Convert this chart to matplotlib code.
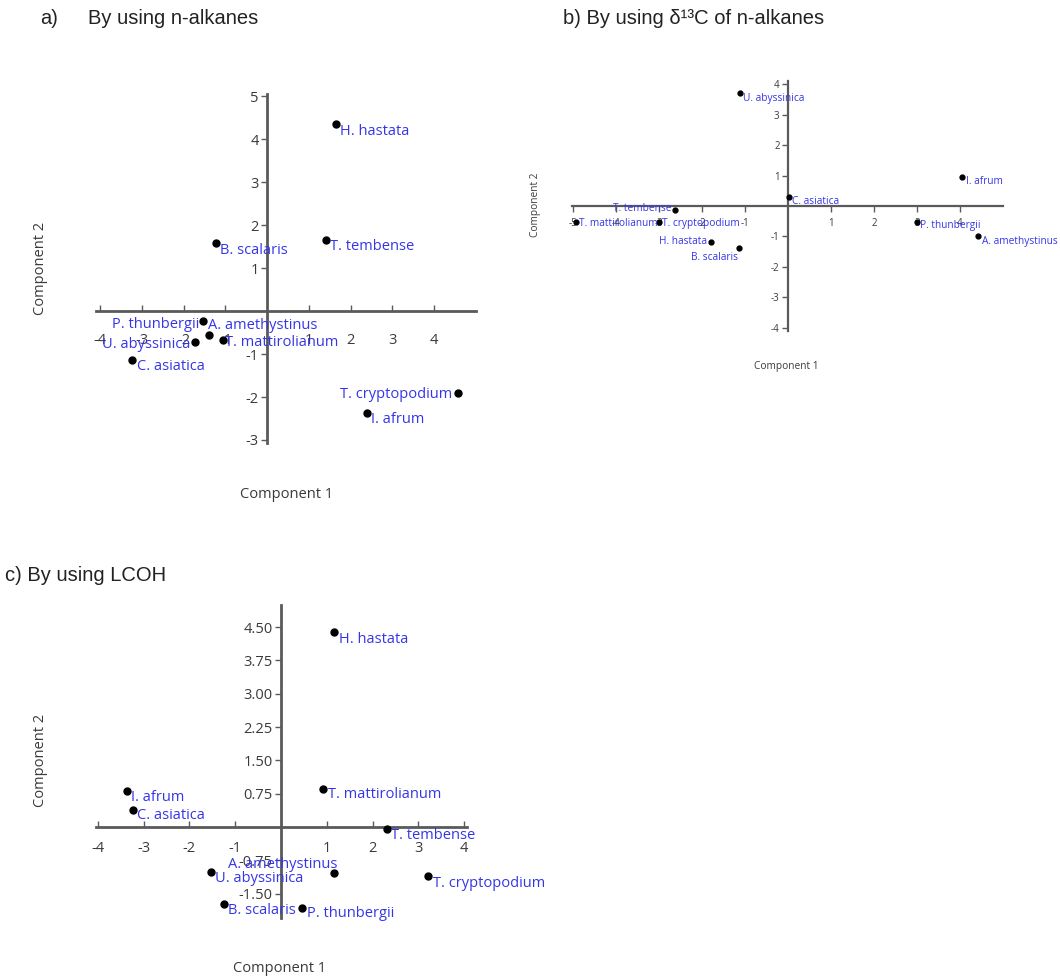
import matplotlib
matplotlib.use('Agg')
import matplotlib.pyplot as plt
from matplotlib.ticker import FixedLocator, FixedFormatter

W, H = 1060, 980

### panel a) PCA on n-alkanes
a_names = ['H. hastata', 'T. tembense', 'B. scalaris', 'P. thunbergii', 'A. amethystinus',
           'T. mattirolianum', 'U. abyssinica', 'C. asiatica', 'T. cryptopodium', 'I. afrum']
a_pc1 = [1.65, 1.41, -1.22, -1.53, -1.39, -1.05, -1.73, -3.24, 4.56, 2.40]
a_pc2 = [4.35, 1.65, 1.58, -0.23, -0.56, -0.67, -0.72, -1.14, -1.91, -2.37]
a_xticks = [-4, -3, -2, -1, 1, 2, 3, 4]
a_yticks = [-3, -2, -1, 1, 2, 3, 4, 5]

### panel b) PCA on d13C of n-alkanes
b_names = ['U. abyssinica', 'C. asiatica', 'I. afrum', 'T. tembense', 'T. mattirolianum',
           'T. cryptopodium', 'H. hastata', 'B. scalaris', 'P. thunbergii', 'A. amethystinus']
b_pc1 = [-1.12, 0.02, 4.05, -2.63, -4.93, -3.00, -1.79, -1.14, 3.00, 4.42]
b_pc2 = [3.70, 0.30, 0.95, -0.13, -0.52, -0.52, -1.18, -1.38, -0.52, -0.98]
b_xticks = [-5, -4, -3, -2, -1, 1, 2, 3, 4]
b_yticks = [-4, -3, -2, -1, 1, 2, 3, 4]

### panel c) PCA on LCOH
c_names = ['H. hastata', 'T. mattirolianum', 'I. afrum', 'C. asiatica', 'T. tembense',
           'T. cryptopodium', 'A. amethystinus', 'U. abyssinica', 'B. scalaris', 'P. thunbergii']
c_pc1 = [1.16, 0.92, -3.36, -3.23, 2.32, 3.21, 1.16, -1.53, -1.24, 0.46]
c_pc2 = [4.39, 0.86, 0.81, 0.38, -0.04, -1.10, -1.04, -1.01, -1.73, -1.82]
c_xticks = [-4, -3, -2, -1, 1, 2, 3, 4]
c_yticks = [-1.50, -0.75, 0.75, 1.50, 2.25, 3.00, 3.75, 4.50]

# label offsets in pixels (dx, dy, ha) -- placement only
a_offs = [(4, -7, 'left'), (4, -6, 'left'), (4, -7, 'left'), (-4, -4, 'right'), (-1, 10, 'left'),
          (2, -3, 'left'), (-5, -3, 'right'), (5, -6, 'left'), (-5, -1, 'right'), (4, -7, 'left')]
b_offs = [(3, -5, 'left'), (3, -5, 'left'), (4, -4, 'left'), (-3, 1, 'right'), (3, -2, 'left'),
          (3, -2, 'left'), (-4, 0, 'right'), (-1, -9, 'right'), (3, -4, 'left'), (4, -6, 'left')]
c_offs = [(5, -7, 'left'), (5, -6, 'left'), (4, -6, 'left'), (4, -5, 'left'), (4, -7, 'left'),
          (5, -8, 'left'), (3, 9, 'right'), (4, -7, 'left'), (4, -7, 'left'), (5, -6, 'left')]

plt.rcParams['font.family'] = ['Open Sans', 'DejaVu Sans']

AXCOL = '#5a5a5a'
TXTCOL = '#3a3a3a'
BLUE = '#3535e8'


def px_axes(fig, left, right, top, bottom):
    return fig.add_axes([left/W, 1-bottom/H, (right-left)/W, (bottom-top)/H])


def pca_panel(ax, names, pc1, pc2, offs, xticks, yticks, xlim, ylim, xfmt, yfmt,
              fs, lab_fs, ms, xtick_dir, xpad, lw):
    ax.set_xlim(xlim)
    ax.set_ylim(ylim)
    ax.spines['left'].set_position(('data', 0))
    ax.spines['bottom'].set_position(('data', 0))
    ax.spines['right'].set_visible(False)
    ax.spines['top'].set_visible(False)
    for s in ['left', 'bottom']:
        ax.spines[s].set_color(AXCOL)
        ax.spines[s].set_linewidth(lw)
    ax.xaxis.set_major_locator(FixedLocator(xticks))
    ax.xaxis.set_major_formatter(FixedFormatter([xfmt.format(t) for t in xticks]))
    ax.yaxis.set_major_locator(FixedLocator(yticks))
    ax.yaxis.set_major_formatter(FixedFormatter([yfmt.format(t) for t in yticks]))
    ax.tick_params(axis='x', direction=xtick_dir, length=4, width=1, color=AXCOL,
                   labelsize=fs, labelcolor=TXTCOL, pad=xpad)
    ax.tick_params(axis='y', direction='out', length=4, width=1, color=AXCOL,
                   labelsize=fs, labelcolor=TXTCOL, pad=2)
    ax.patch.set_alpha(0)
    ax.plot(pc1, pc2, 'o', color='black', markersize=ms, zorder=5, clip_on=False)
    for name, x, y, (dx, dy, ha) in zip(names, pc1, pc2, offs):
        ax.annotate(name, (x, y), xytext=(dx, dy), textcoords='offset pixels',
                    ha=ha, va='center', color=BLUE, fontsize=lab_fs, zorder=6)


fig = plt.figure(figsize=(W/100, H/100), dpi=100)

ax_a = px_axes(fig, 96, 476, 94, 443)
pca_panel(ax_a, a_names, a_pc1, a_pc2, a_offs, a_xticks, a_yticks, (-4.1, 5.0), (-3.07, 5.05),
          '{:d}', '{:d}', 10.5, 10.5, 5, 'in', 16, 2)

ax_b = px_axes(fig, 572, 1003, 81, 331)
pca_panel(ax_b, b_names, b_pc1, b_pc2, b_offs, b_xticks, b_yticks, (-5.02, 5.0), (-4.1, 4.1),
          '{:d}', '{:d}', 7, 7.3, 3.5, 'out', 5, 1.6)

ax_c = px_axes(fig, 95.5, 466.5, 605, 918)
pca_panel(ax_c, c_names, c_pc1, c_pc2, c_offs, c_xticks, c_yticks, (-4.05, 4.05), (-2.05, 5.0),
          '{:d}', '{:.2f}', 10.5, 10.5, 5, 'in', 10, 2)

# axis titles
def ftext(x, y, s, **kw):
    fig.text(x/W, 1-y/H, s, ha='center', va='center', color=TXTCOL, **kw)

ftext(287, 495, 'Component 1', fontsize=10.5)
ftext(40, 268, 'Component 2', fontsize=10.5, rotation=90)
ftext(786, 366, 'Component 1', fontsize=7.3)
ftext(535, 205, 'Component 2', fontsize=7.3, rotation=90)
ftext(280, 968, 'Component 1', fontsize=10.5)
ftext(40, 760, 'Component 2', fontsize=10.5, rotation=90)

# panel headings
tfont = dict(fontsize=14.5, color='#222222', va='center', ha='left',
             family=['Liberation Sans Narrow', 'Liberation Sans', 'DejaVu Sans'])
fig.text(40/W, 1-18/H, 'a)', **tfont)
fig.text(88/W, 1-18/H, 'By using n-alkanes', **tfont)
fig.text(563/W, 1-18/H, 'b) By using \u03b4\u00b9\u00b3C of n-alkanes', **tfont)
fig.text(5/W, 1-575/H, 'c) By using LCOH', **tfont)

fig.savefig('out.png', dpi=100)
